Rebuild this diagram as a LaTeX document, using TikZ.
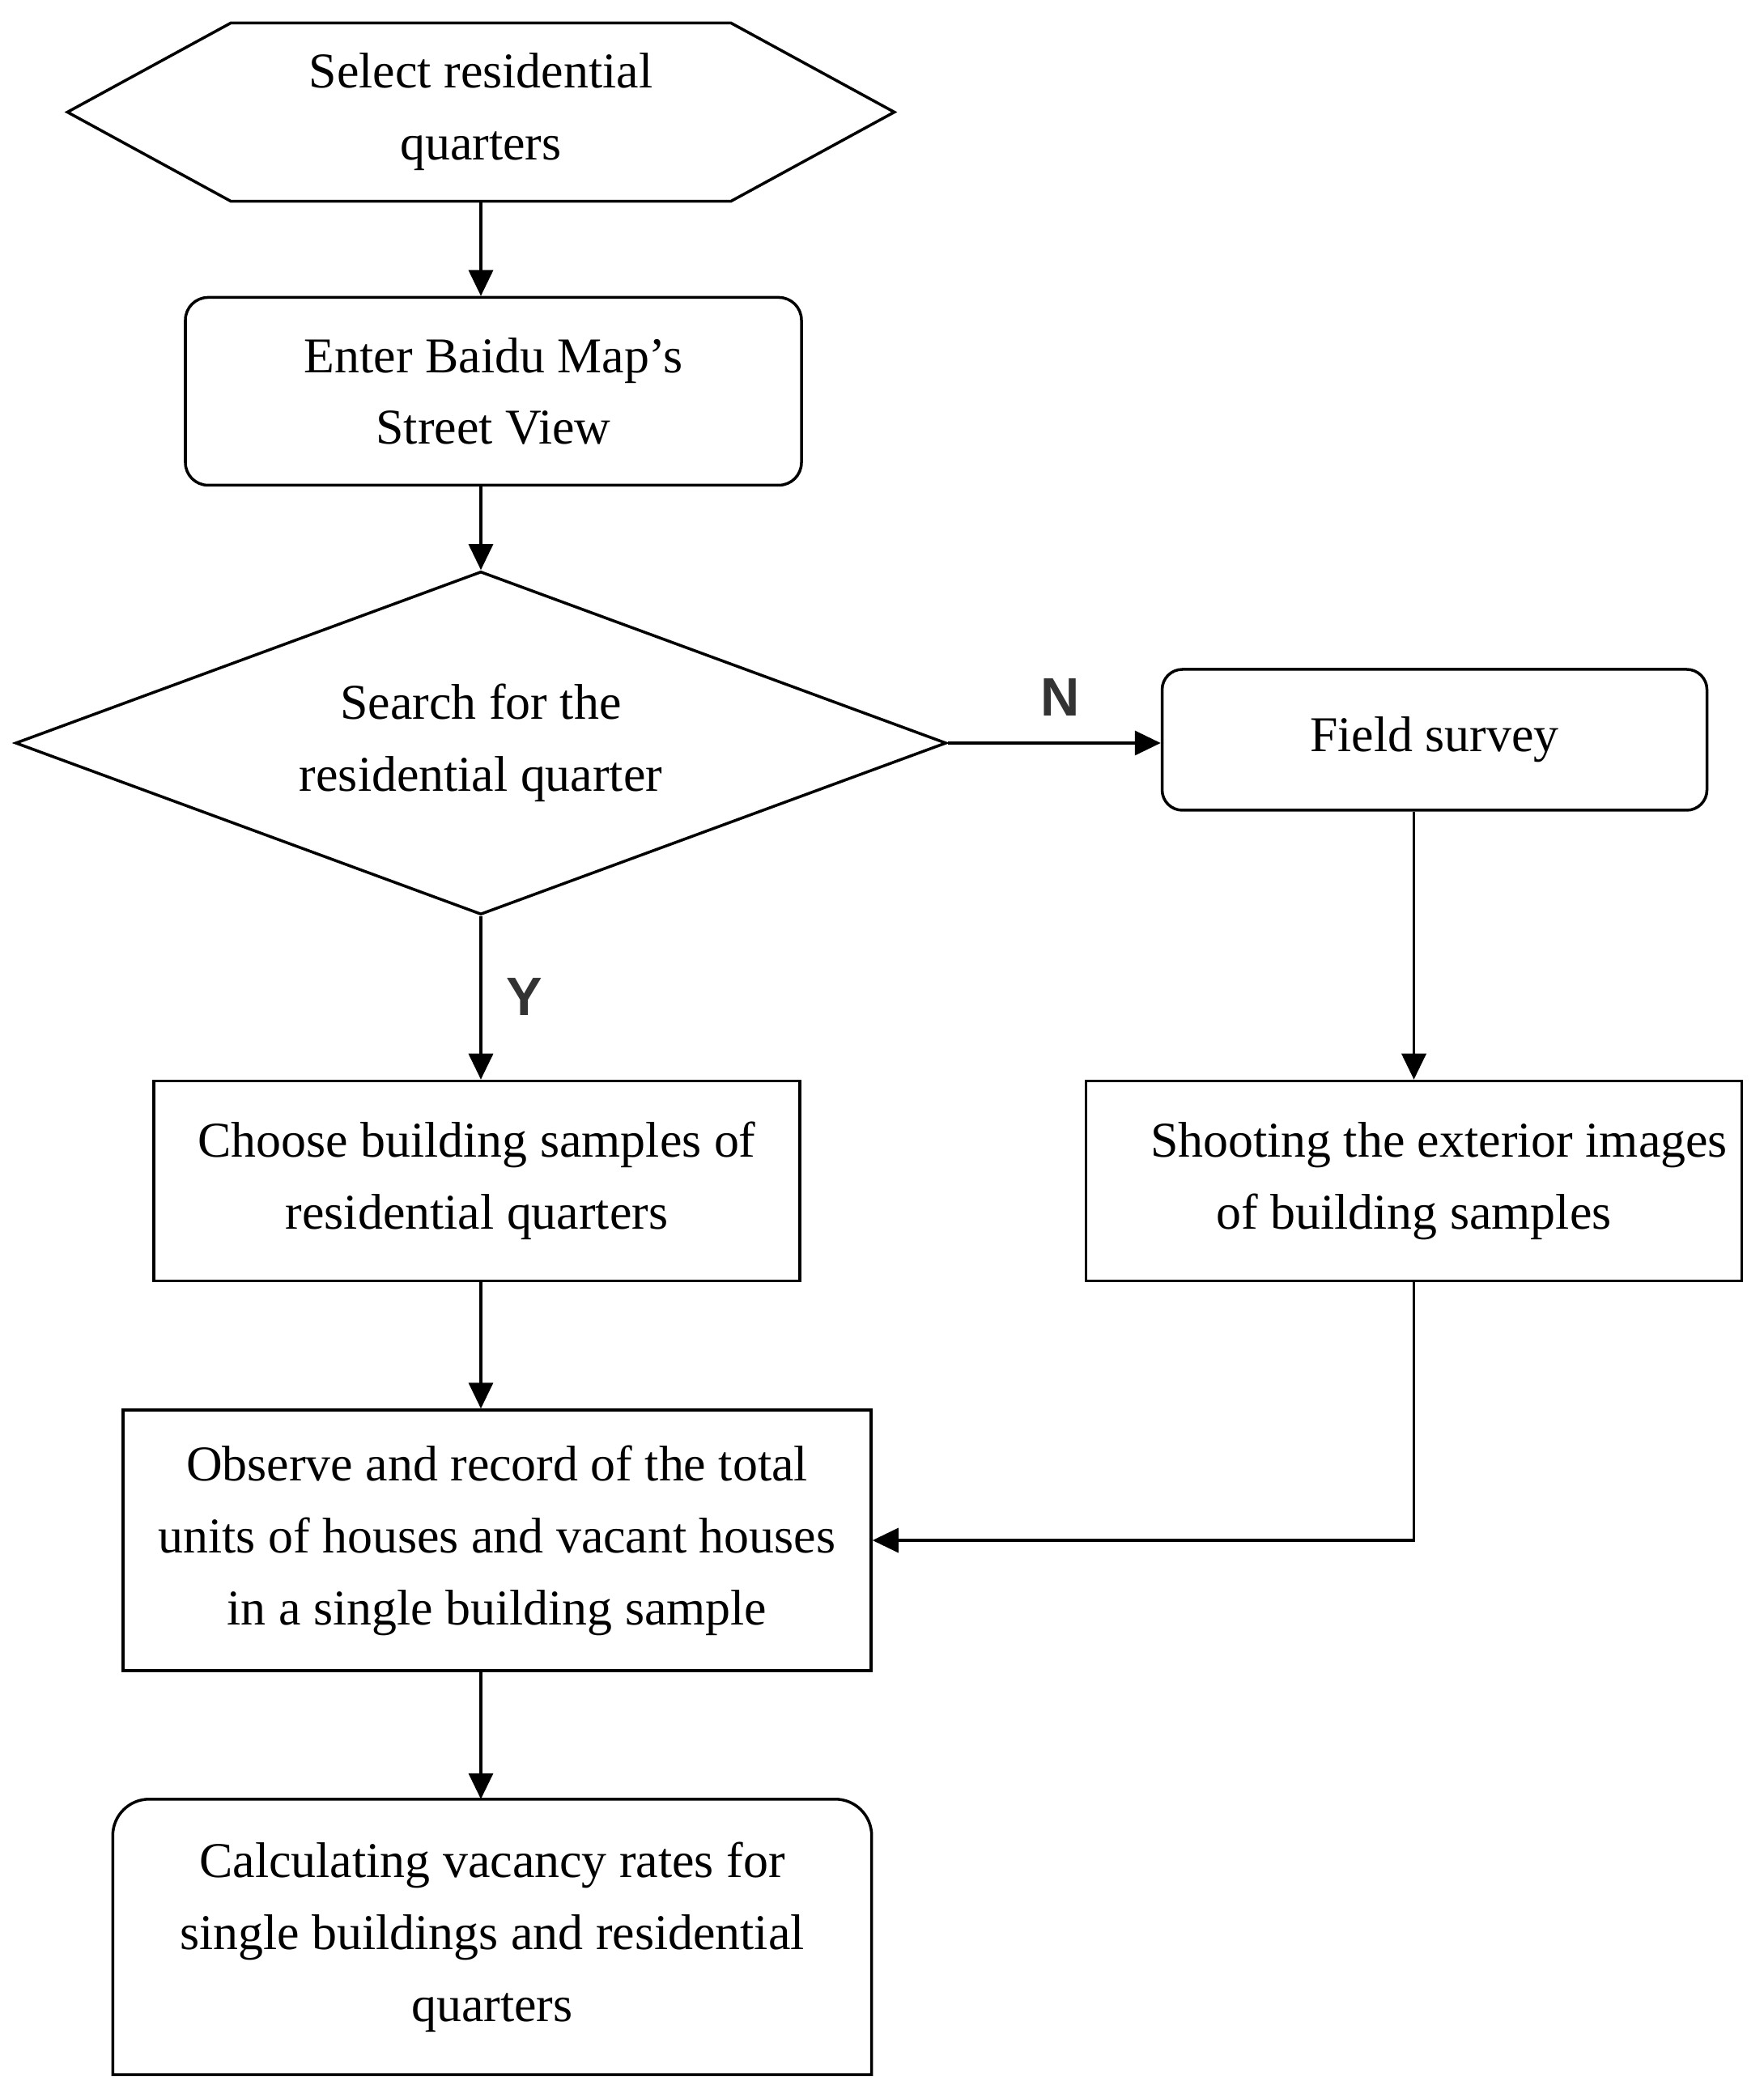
\documentclass[tikz,border=0pt]{standalone}
\usepackage{fontspec}
\setmainfont{Liberation Serif}
\newfontfamily\labelfont{Liberation Sans}
\usetikzlibrary{shapes.geometric, arrows.meta, positioning}
\tikzset{
    start/.style={rectangle, minimum width=6.16cm, minimum height=2.19cm, inner sep=0pt, align=center},
    process/.style={draw, rectangle, rounded corners=0.28cm, inner sep=4pt, align=center, draw=black, line width=1pt},
    plainbox/.style={draw, rectangle, inner sep=4pt, align=center, draw=black, line width=1pt},
    decision/.style={draw, diamond, aspect=2.7, inner sep=0pt, align=center, draw=black, line width=1pt, minimum width=11.5cm, minimum height=4.24cm},
    arrow/.style={-{Triangle[length=0.32cm, width=0.3cm]}, line width=1pt, draw=black},
    yesno/.style={font=\labelfont\bfseries\fontsize{19}{19}\selectfont, text=black!80, inner sep=0pt}
}

\begin{document}
\begin{tikzpicture}[font=\fontsize{17.6}{25.3}\selectfont]
        \useasboundingbox (0,0) rectangle (21.78,-25.92);

        % Main column
        \node (sel) [start] at (5.94,-1.385) {Select residential\\quarters};
        \node (enter) [process, minimum width=7.61cm, minimum height=2.32cm, below=1.17cm of sel, xshift=0.155cm] {Enter Baidu Map’s\\Street View};
        \node (search) [decision, below=1.03cm of enter, xshift=-0.155cm] {Search for the\\residential quarter};
        \node (choose) [plainbox, minimum width=7.98cm, minimum height=2.47cm, below=2.02cm of search, xshift=-0.05cm] {Choose building samples of\\residential quarters};
        \node (observe) [plainbox, minimum width=9.24cm, minimum height=3.22cm, below=1.56cm of choose, xshift=0.25cm] {Observe and record of the total\\units of houses and vacant houses\\in a single building sample};
        \node (calc) [align=center, minimum width=9.36cm, minimum height=3.39cm, below=1.57cm of observe, xshift=-0.06cm] {Calculating vacancy rates for\\single buildings and residential\\quarters};

        % Field branch
        \node (field) [process, rounded corners=0.25cm, minimum width=6.73cm, minimum height=1.74cm, right=2.63cm of search, yshift=0.04cm] {Field survey};
        \node (shoot) [plainbox, minimum width=8.10cm, minimum height=2.47cm, right=3.5cm of choose] {\hspace*{0.62cm}Shooting the exterior images\\of building samples};

        % Outlines drawn by hand
        \draw [line width=1pt] (sel.north west) -- (sel.north east) -- ([xshift=2.02cm]sel.east) -- (sel.south east) -- (sel.south west) -- ([xshift=-2.02cm]sel.west) -- cycle;
        \draw [line width=1pt] (calc.south west) -- ([yshift=-0.45cm]calc.north west) arc[start angle=180, end angle=90, radius=0.45cm] -- ([xshift=-0.45cm]calc.north east) arc[start angle=90, end angle=0, radius=0.45cm] -- (calc.south east) -- cycle;

        % Connections
        \draw [arrow] (sel.south) -- (sel.south |- enter.north);
        \draw [arrow] (sel.south |- enter.south) -- (search.north);
        \draw [arrow] (search.south) -- (search.south |- choose.north);
        \draw [arrow] (search.south |- choose.south) -- (search.south |- observe.north);
        \draw [arrow] (search.south |- observe.south) -- (search.south |- calc.north);
        \draw [arrow] (search.east) -- (search.east -| field.west);
        \draw [arrow] ([xshift=-0.255cm]field.south) -- (shoot.north);
        \draw [arrow] (shoot.south) |- (observe.east);

        \node (nlab) [yesno] at ([xshift=1.39cm, yshift=0.56cm]search.east) {N};
        \node (ylab) [yesno] at ([xshift=0.54cm, yshift=-1.0cm]search.south) {Y};

    \end{tikzpicture}
\end{document}
